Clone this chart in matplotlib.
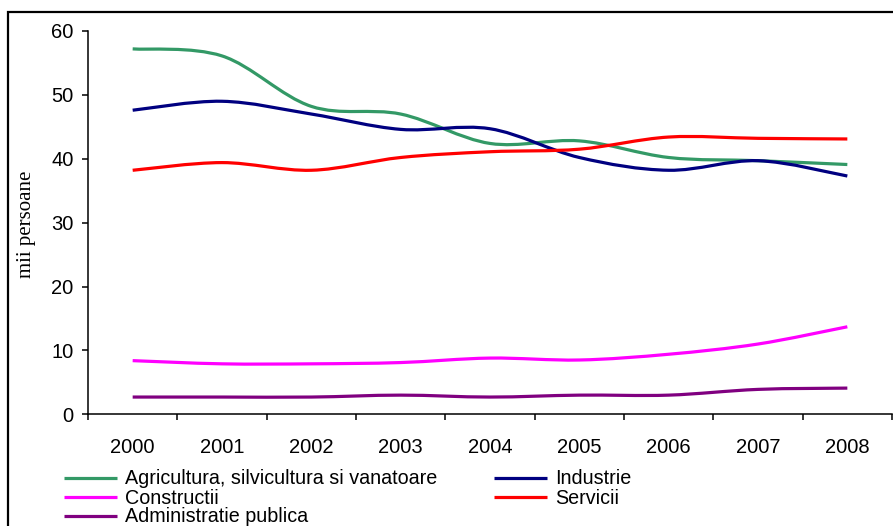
import numpy as np
import matplotlib
matplotlib.use("Agg")
import matplotlib.pyplot as plt
from matplotlib.path import Path
from matplotlib.patches import PathPatch, Rectangle
from matplotlib.lines import Line2D

# annual values, thousand persons
years = ["2000", "2001", "2002", "2003", "2004", "2005", "2006", "2007", "2008"]
agricultura = [57.2, 56.1, 48.2, 47.0, 42.4, 42.8, 40.2, 39.7, 39.1]
industrie = [47.6, 49.0, 47.0, 44.6, 44.7, 40.2, 38.2, 39.7, 37.3]
constructii = [8.4, 7.9, 7.9, 8.1, 8.8, 8.5, 9.4, 11.0, 13.7]
servicii = [38.2, 39.4, 38.2, 40.2, 41.1, 41.5, 43.4, 43.2, 43.1]
administratie = [2.7, 2.7, 2.7, 3.0, 2.7, 3.0, 3.0, 3.9, 4.1]

series = [
    ("Agricultura, silvicultura si vanatoare", agricultura, "#339966"),
    ("Industrie", industrie, "#000080"),
    ("Constructii", constructii, "#FF00FF"),
    ("Servicii", servicii, "#FF0000"),
    ("Administratie publica", administratie, "#800080"),
]

LW = 2.3
FONT = "Liberation Sans"


def smooth_path(x, y):
    # Excel-style smoothed line: cubic Bezier through every data point
    n = len(x)
    verts = [(x[0], y[0])]
    codes = [Path.MOVETO]
    for i in range(n - 1):
        xa, ya = (x[i - 1], y[i - 1]) if i > 0 else (x[i], y[i])
        xb, yb = (x[i + 2], y[i + 2]) if i + 2 < n else (x[i + 1], y[i + 1])
        c1 = (x[i] + (x[i + 1] - xa) / 6, y[i] + (y[i + 1] - ya) / 6)
        c2 = (x[i + 1] - (xb - x[i]) / 6, y[i + 1] - (yb - y[i]) / 6)
        verts += [c1, c2, (x[i + 1], y[i + 1])]
        codes += [Path.CURVE4] * 3
    return Path(verts, codes)


W, H = 893, 526
fig = plt.figure(figsize=(W / 100, H / 100), dpi=100)
ax = fig.add_axes([88 / W, 1 - 414.3 / H, (892 - 88) / W, (414.3 - 31) / H])

xpos = np.arange(len(years))
for name, vals, col in series:
    p = PathPatch(smooth_path(xpos, np.array(vals, dtype=float)), facecolor="none",
                  edgecolor=col, lw=LW, capstyle="butt", joinstyle="round")
    ax.add_patch(p)

ax.set_xlim(-0.5, len(years) - 0.5)
ax.set_ylim(0, 60)
ax.set_yticks(np.arange(0, 61, 10))
ax.set_xticks(xpos)
ax.set_xticklabels(years)
ax.set_xticks(np.arange(-0.5, len(years), 1.0), minor=True)
ax.tick_params(axis="x", which="major", length=0, pad=17, labelsize=14.5)
ax.tick_params(axis="x", which="minor", length=4.5, width=1.1, direction="out")
ax.tick_params(axis="y", length=4.3, width=1.1, direction="out", pad=6, labelsize=14.5)
for lab in ax.get_xticklabels() + ax.get_yticklabels():
    lab.set_fontfamily(FONT)

for s in ["top", "right"]:
    ax.spines[s].set_visible(False)
for s in ["left", "bottom"]:
    ax.spines[s].set_linewidth(1.1)
    ax.spines[s].set_color("black")

fig.text(27 / W, 1 - 224 / H, "mii persoane", rotation=90, ha="center", va="center",
         family="Liberation Serif", fontsize=15)

# legend drawn by hand: rows are packed tighter than fig.legend allows
# (column x of handle start, row y of line centre) in pixels
slots = [(64, 478), (494, 478), (64, 497), (494, 497), (64, 516)]
for (name, vals, col), (lx, ly) in zip(series, slots):
    fig.add_artist(Line2D([lx / W, (lx + 53) / W], [1 - ly / H, 1 - ly / H],
                          transform=fig.transFigure, color=col, lw=LW,
                          solid_capstyle="butt"))
    fig.text((lx + 61) / W, 1 - (ly + 6.5) / H, name, ha="left", va="baseline",
             family=FONT, fontsize=14.2)

# outer chart frame
fig.add_artist(Rectangle((8 / W, -0.1), 1.2, 1.1 - 12 / H, transform=fig.transFigure,
                         facecolor="none", edgecolor="black", lw=1.6))

fig.savefig("out.png", dpi=100)
